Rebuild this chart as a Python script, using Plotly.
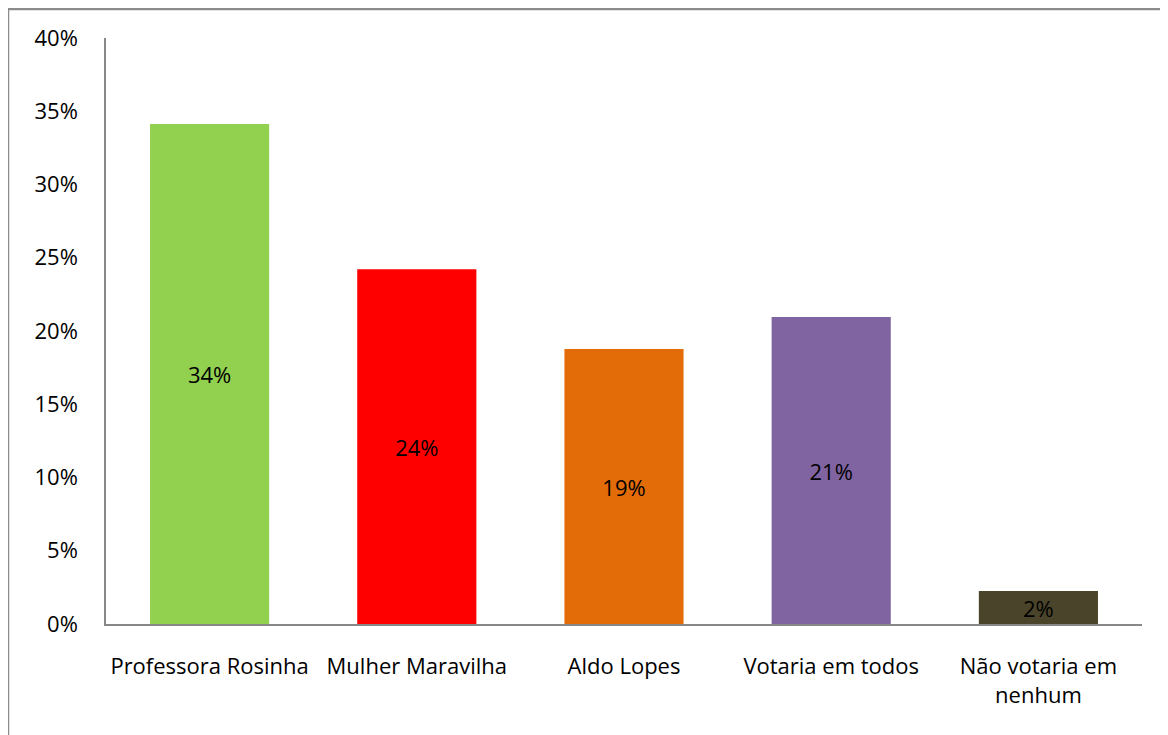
import plotly.graph_objects as go

categories = ["Professora Rosinha", "Mulher Maravilha", "Aldo Lopes", "Votaria em todos",
              "Não votaria em<br>nenhum"]
values = [0.3413, 0.2422, 0.1877, 0.2095, 0.0225]
labels = ["34%", "24%", "19%", "21%", "2%"]
colors = ["#92D050", "#FF0000", "#E36C09", "#8064A2", "#4A442A"]

FONT = "Open Sans"

fig = go.Figure(
    go.Bar(
        x=categories,
        y=values,
        marker=dict(color=colors, line=dict(width=0)),
        text=labels,
        textposition="inside",
        insidetextanchor="middle",
        textfont=dict(family=FONT, size=22, color="#000000"),
        hoverinfo="skip",
    )
)

# page has an 8px body margin, so margins are trimmed to land on the reference
fig.update_layout(
    width=1168,
    height=735,
    paper_bgcolor="white",
    plot_bgcolor="white",
    bargap=0.425,
    showlegend=False,
    uniformtext=dict(minsize=22, mode="show"),
    font=dict(family=FONT, size=22, color="#000000"),
    margin=dict(l=98, r=34, t=30, b=119),
    shapes=[
        dict(type="rect", xref="paper", yref="paper",
             x0=-98 / 1036, x1=1.2, y0=-0.5, y1=1 + 29 / 586,
             line=dict(color="#8C8C8C", width=2.5), layer="below"),
    ],
)
fig.update_yaxes(
    range=[0, 0.40],
    dtick=0.05,
    tickformat=".0%",
    showgrid=False,
    zeroline=False,
    showline=True,
    linecolor="#888888",
    linewidth=1.5,
    ticks="",
    ticklabelstandoff=22,
    tickfont=dict(family=FONT, size=22),
)
fig.update_xaxes(
    showgrid=False,
    showline=True,
    linecolor="#888888",
    linewidth=1.5,
    ticks="",
    ticklabelstandoff=22,
    tickfont=dict(family=FONT, size=22),
)

fig.write_html("out.html")
